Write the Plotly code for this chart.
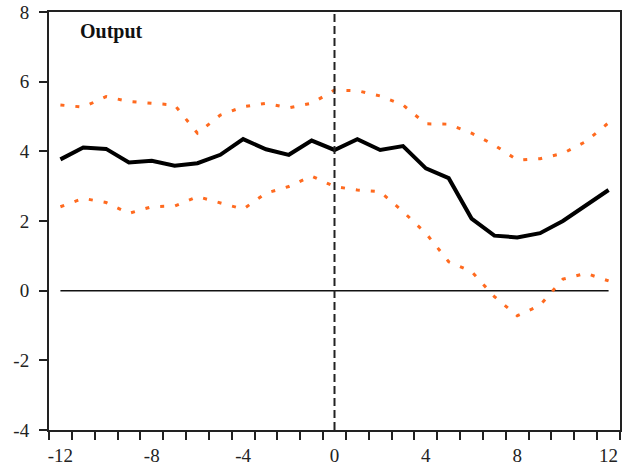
import plotly.graph_objects as go

horizon = list(range(-12, 13))
output_mean = [3.77, 4.11, 4.07, 3.68, 3.73, 3.59, 3.66, 3.90, 4.35, 4.06, 3.90, 4.31, 4.04,
               4.35, 4.04, 4.15, 3.51, 3.23, 2.07, 1.58, 1.53, 1.65, 2.00, 2.46, 2.89]
upper_band = [5.33, 5.27, 5.57, 5.43, 5.38, 5.33, 4.52, 5.04, 5.28, 5.38, 5.25, 5.38, 5.76,
              5.74, 5.59, 5.33, 4.79, 4.78, 4.52, 4.18, 3.75, 3.79, 3.94, 4.28, 4.82]
lower_band = [2.41, 2.65, 2.53, 2.22, 2.41, 2.43, 2.70, 2.53, 2.34, 2.80, 2.99, 3.29, 2.99,
              2.89, 2.84, 2.27, 1.65, 0.83, 0.55, -0.17, -0.72, -0.42, 0.33, 0.50, 0.28]
zero_line = [0] * len(horizon)
x_tick_vals = [-12, -8, -4, 0, 4, 8, 12]
y_tick_vals = [-4, -2, 0, 2, 4, 6, 8]
minor_tick_vals = [h + 0.5 for h in range(-13, 13)]

FONT = "Liberation Serif"
orange = "#FF6A1F"

fig = go.Figure()
fig.add_trace(go.Scatter(x=horizon, y=zero_line, mode="lines",
                         line=dict(color="#111", width=1.5), hoverinfo="skip"))
fig.add_trace(go.Scatter(x=horizon, y=upper_band, mode="lines",
                         line=dict(color=orange, width=3, dash="4px,11px")))
fig.add_trace(go.Scatter(x=horizon, y=lower_band, mode="lines",
                         line=dict(color=orange, width=3, dash="4px,11px")))
fig.add_trace(go.Scatter(x=horizon, y=output_mean, mode="lines",
                         line=dict(color="#000", width=4)))

fig.add_shape(type="line", x0=0, x1=0, xref="x", y0=0, y1=1, yref="y domain",
              line=dict(color="#222", width=2, dash="8px,4px"))

fig.add_annotation(text="<b>Output</b>", x=-11.25, y=7.43, xref="x", yref="y",
                   xanchor="left", yanchor="middle", showarrow=False,
                   font=dict(family=FONT, size=20, color="#111"))

fig.update_layout(
    width=622, height=469,
    margin=dict(l=49, r=2, t=12, b=39),
    paper_bgcolor="white", plot_bgcolor="white",
    showlegend=False,
    font=dict(family=FONT, size=19, color="#222"),
)
fig.update_xaxes(
    range=[-12.5, 12.5], tickvals=x_tick_vals, ticktext=[str(v) for v in x_tick_vals],
    ticks="", showgrid=False, zeroline=False, automargin=False,
    showline=True, linecolor="#222", linewidth=2, mirror=True,
    ticklabelstandoff=7,
    minor=dict(tickvals=minor_tick_vals, ticks="outside", ticklen=8, tickwidth=1.5,
               tickcolor="#222", showgrid=False),
)
fig.update_yaxes(
    range=[-4, 8], tickvals=y_tick_vals, ticktext=[str(v) for v in y_tick_vals],
    ticks="outside", ticklen=8, tickwidth=1.5, automargin=False,
    tickcolor="#222", showgrid=False, zeroline=False,
    showline=True, linecolor="#222", linewidth=2, mirror=True,
    ticklabelstandoff=6,
)

fig.write_html("out.html")
